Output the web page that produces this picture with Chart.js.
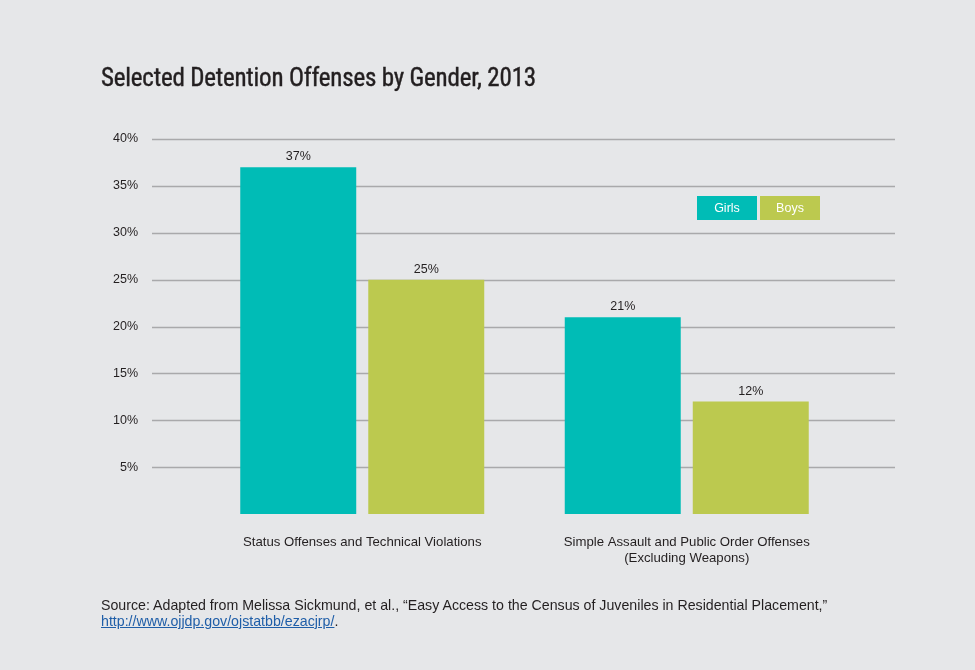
<!DOCTYPE html>
<html>
<head>
<meta charset="utf-8">
<script src="https://cdn.jsdelivr.net/npm/chart.js@4.4.1/dist/chart.umd.min.js"></script>
<style>
    html, body { margin: 0; padding: 0; background: #e6e7e9; }
    #wrap { position: relative; width: 975px; height: 670px; overflow: hidden; }
    #chart { position: absolute; left: 0; top: 0; }
    #title {
        position: absolute; left: 101px; top: 63px; margin: 0;
        font-family: "Liberation Sans Narrow", "Roboto Condensed", "Liberation Sans", sans-serif;
        font-weight: normal; font-size: 25px; color: #231f20; letter-spacing: -0.2px;
        -webkit-text-stroke: 0.4px #231f20;
    }
    #legend { position: absolute; left: 697px; top: 196px; display: flex; gap: 3px; }
    #legend span {
        display: block; width: 60px; height: 24px; line-height: 24px; text-align: center;
        color: #fff; font-family: "Liberation Sans", Arial, sans-serif; font-size: 12.5px;
    }
    #source {
        position: absolute; left: 101px; top: 597px; margin: 0;
        font-family: "Liberation Sans", Arial, sans-serif; font-size: 14.2px; line-height: 16px; color: #231f20;
    }
    #source a { color: #1f5ea8; }
</style>
</head>
<body>
<div id="wrap">
    <canvas id="chart" width="975" height="670"></canvas>
    <h1 id="title">Selected Detention Offenses by Gender, 2013</h1>
    <div id="legend"></div>
    <p id="source">Source: Adapted from Melissa Sickmund, et al., “Easy Access to the Census of Juveniles in Residential Placement,”<br><a href="#">http://www.ojjdp.gov/ojstatbb/ezacjrp/</a>.</p>
</div>
<script>
document.addEventListener("DOMContentLoaded", function () {
    // -----------------------------
    // Données
    // -----------------------------
    const categories = [
        'Status Offenses and Technical Violations',
        ['Simple Assault and Public Order Offenses', '(Excluding Weapons)']
    ];
    const girls = [37, 21];
    const boys = [25, 12];
    const seriesNames = ['Girls', 'Boys'];
    const seriesColors = ['#00bcb6', '#bcc94f'];
    const yTicks = [5, 10, 15, 20, 25, 30, 35, 40];

    const textFont = '"Liberation Sans", Arial, sans-serif';

    // -----------------------------
    // Lignes de grille (plus larges que la zone des barres)
    // -----------------------------
    const wideGrid = {
        id: 'wideGrid',
        beforeDatasetsDraw(chart) {
            const ctx = chart.ctx;
            const area = chart.chartArea;
            const y = chart.scales.y;
            ctx.save();
            ctx.strokeStyle = '#a9a9ab';
            ctx.lineWidth = 1.5;
            yTicks.forEach(v => {
                const py = Math.round(y.getPixelForValue(v)) + 0.5;
                ctx.beginPath();
                ctx.moveTo(area.left - 48, py);
                ctx.lineTo(area.right + 46, py);
                ctx.stroke();
            });
            ctx.restore();
        }
    };

    // -----------------------------
    // Valeurs au-dessus des barres
    // -----------------------------
    const barValues = {
        id: 'barValues',
        afterDatasetsDraw(chart) {
            const ctx = chart.ctx;
            ctx.save();
            ctx.font = '12.5px ' + textFont;
            ctx.fillStyle = '#231f20';
            ctx.textAlign = 'center';
            ctx.textBaseline = 'bottom';
            chart.data.datasets.forEach((ds, i) => {
                chart.getDatasetMeta(i).data.forEach((bar, j) => {
                    ctx.fillText(ds.data[j] + '%', bar.x, bar.y - 4);
                });
            });
            ctx.restore();
        }
    };

    const canvas = document.getElementById('chart');
    const chart = new Chart(canvas.getContext('2d'), {
        type: 'bar',
        data: {
            labels: categories,
            datasets: [
                { label: seriesNames[0], data: girls, backgroundColor: seriesColors[0] },
                { label: seriesNames[1], data: boys, backgroundColor: seriesColors[1] }
            ]
        },
        options: {
            responsive: false,
            animation: false,
            devicePixelRatio: 1,
            categoryPercentage: 0.789,
            barPercentage: 0.906,
            layout: { padding: { left: 100, top: 139, right: 126, bottom: 96 } },
            plugins: {
                legend: { display: false },
                tooltip: { enabled: false }
            },
            scales: {
                x: {
                    grid: { display: false, drawTicks: false },
                    border: { display: false },
                    ticks: {
                        color: '#231f20',
                        font: { family: textFont, size: 13.2, lineHeight: 1.22 },
                        padding: 20,
                        maxRotation: 0,
                        autoSkip: false
                    },
                    afterFit(scale) { scale.height = 60; }
                },
                y: {
                    min: 0,
                    max: 40,
                    grid: { display: false, drawTicks: false },
                    border: { display: false },
                    ticks: {
                        stepSize: 5,
                        padding: 62,
                        color: '#231f20',
                        font: { family: textFont, size: 12.5 },
                        callback: v => (v === 0 ? '' : v + '%')
                    },
                    afterFit(scale) { scale.width = 100; }
                }
            }
        },
        plugins: [wideGrid, barValues]
    });

    // Légende sous forme de blocs colorés
    const legend = document.getElementById('legend');
    chart.data.datasets.forEach(ds => {
        const item = document.createElement('span');
        item.textContent = ds.label;
        item.style.background = ds.backgroundColor;
        legend.appendChild(item);
    });
});
</script>
</body>
</html>
